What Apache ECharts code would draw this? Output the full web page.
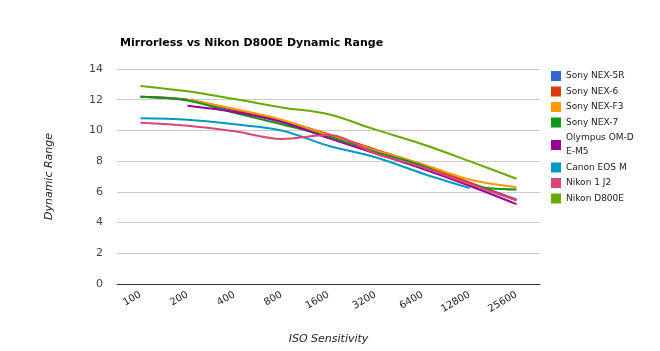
<!DOCTYPE html>
<html>
<head>
<meta charset="utf-8">
<script src="https://cdn.jsdelivr.net/npm/echarts@6/dist/echarts.min.js"></script>
<style>
    html, body { margin: 0; padding: 0; background: #fff; }
    #chart { width: 660px; height: 351px; }
</style>
</head>
<body>
<div id="chart"></div>
<script>
    // ISO values along the x axis
    var isoLabels = ['100', '200', '400', '800', '1600', '3200', '6400', '12800', '25600'];
    var yTicks = [0, 2, 4, 6, 8, 10, 12, 14];

    var cameraNames = ['Sony NEX-5R', 'Sony NEX-6', 'Sony NEX-F3', 'Sony NEX-7',
        'Olympus OM-D E-M5', 'Canon EOS M', 'Nikon 1 J2', 'Nikon D800E'];

    var nex5r   = [12.2, 12.0, 11.3, 10.6, 9.7, 8.7, 7.7, 6.6, 5.5];
    var nex6    = [12.2, 12.0, 11.35, 10.65, 9.75, 8.75, 7.75, 6.6, 5.45];
    var nexF3   = [null, 12.0, 11.4, 10.7, 9.7, 8.7, 7.8, 6.8, 6.3];
    var nex7    = [12.2, 11.95, 11.15, 10.4, 9.6, 8.6, 7.7, 6.45, 6.15];
    var omdEm5  = [null, 11.6, 11.2, 10.55, 9.5, 8.5, 7.5, 6.4, 5.2];
    var eosM    = [10.8, 10.7, 10.4, 10.0, 9.0, 8.25, 7.2, 6.25, null];
    var nikonJ2 = [10.5, 10.3, 9.95, 9.45, 9.7, 8.5, 7.6, 6.5, 5.45];
    var d800e   = [12.9, 12.55, 12.05, 11.5, 11.05, 10.05, 9.1, 8.0, 6.85];

    var allData = [nex5r, nex6, nexF3, nex7, omdEm5, eosM, nikonJ2, d800e];
    var colors = ['#3366cc', '#dc3912', '#ff9900', '#109618', '#990099', '#0099c6', '#dd4477', '#66aa00'];

    var font = 'DejaVu Sans, Verdana, sans-serif';

    var chart = echarts.init(document.getElementById('chart'));
    chart.setOption({
        animation: false,
        color: colors,
        title: {
            text: 'Mirrorless vs Nikon D800E Dynamic Range',
            left: 115,
            top: 33,
            textStyle: { fontFamily: font, fontSize: 11, fontWeight: 'bold', color: '#000' }
        },
        legend: {
            orient: 'vertical',
            left: 546,
            top: 64,
            itemWidth: 10,
            itemHeight: 10,
            itemGap: 1.5,
            icon: 'rect',
            data: cameraNames,
            formatter: function (name) {
                return name === 'Olympus OM-D E-M5' ? 'Olympus OM-D\nE-M5' : name;
            },
            textStyle: { fontFamily: font, fontSize: 9, color: '#222', lineHeight: 14 }
        },
        grid: {
            left: 117,
            right: 120,
            top: 69,
            bottom: 67
        },
        xAxis: {
            type: 'category',
            data: isoLabels,
            name: 'ISO Sensitivity',
            nameLocation: 'middle',
            nameGap: 50,
            nameTextStyle: { fontFamily: font, fontSize: 11, fontStyle: 'italic', color: '#222' },
            axisLine: { lineStyle: { color: '#333', width: 1 } },
            axisTick: { show: false },
            axisLabel: { rotate: 30, fontFamily: font, fontSize: 10, color: '#222', margin: 10 }
        },
        yAxis: {
            type: 'value',
            min: yTicks[0],
            max: yTicks[yTicks.length - 1],
            interval: 2,
            name: 'Dynamic Range',
            nameLocation: 'middle',
            nameGap: 62,
            nameTextStyle: { fontFamily: font, fontSize: 11, fontStyle: 'italic', color: '#222' },
            axisLine: { show: false },
            axisTick: { show: false },
            axisLabel: { fontFamily: font, fontSize: 11, color: '#444', margin: 14 },
            splitLine: { lineStyle: { color: '#cccccc', width: 1 } }
        },
        series: cameraNames.map(function (name, i) {
            return {
                name: name,
                type: 'line',
                data: allData[i],
                smooth: 0.35,
                showSymbol: false,
                symbol: 'none',
                lineStyle: { width: 2 }
            };
        })
    });
</script>
</body>
</html>
